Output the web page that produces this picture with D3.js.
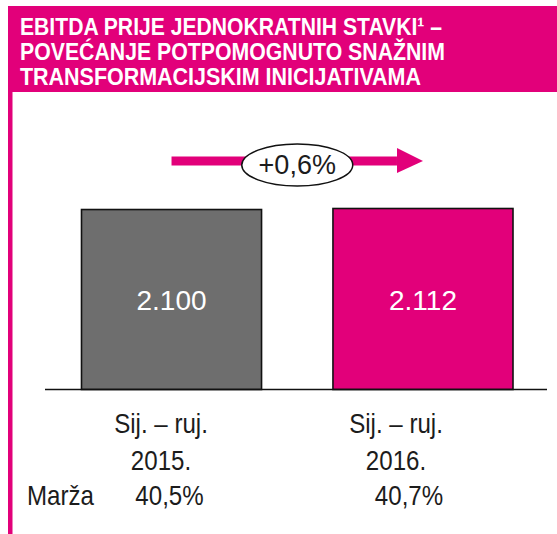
<!DOCTYPE html>
<html>
<head>
<meta charset="utf-8">
<script src="https://cdn.jsdelivr.net/npm/d3@7"></script>
<style>
  body { margin: 0; background: #fff; }
  svg { display: block; }
</style>
</head>
<body>
<script>
// data
var categories = ["2015", "2016"];
var values = [2100, 2112];
var valueLabels = ["2.100", "2.112"];
var periodLabels = ["Sij. – ruj.", "Sij. – ruj."];
var yearLabels = ["2015.", "2016."];
var marginLabels = ["40,5%", "40,7%"];
var changeLabel = "+0,6%";
var titleLines = ["EBITDA PRIJE JEDNOKRATNIH STAVKI¹ –", "POVEĆANJE POTPOMOGNUTO SNAŽNIM", "TRANSFORMACIJSKIM INICIJATIVAMA"];

var W = 557, H = 534;
var magenta = "#e2007a", grey = "#6e6e6e", ink = "#1c1c1c";

var svg = d3.select("body").append("svg")
    .attr("width", W)
    .attr("height", H);

// header block + left rule
svg.append("rect")
    .attr("x", 8).attr("y", 6)
    .attr("width", W - 8).attr("height", 86)
    .attr("fill", magenta);
svg.append("rect")
    .attr("x", 8).attr("y", 92)
    .attr("width", 4.5).attr("height", H - 92)
    .attr("fill", magenta);

var titleWidths = [422, 425, 401];
svg.append("g")
    .attr("fill", "#fff")
    .style("font-family", "'Liberation Sans', Arial, sans-serif")
    .style("font-weight", "bold")
    .style("font-size", "24px")
  .selectAll("text")
  .data(titleLines)
  .join("text")
    .attr("x", 20)
    .attr("y", function(d, i) { return 35 + i * 25; })
    .attr("textLength", function(d, i) { return titleWidths[i]; })
    .attr("lengthAdjust", "spacingAndGlyphs")
    .text(function(d) { return d; });

// scales
var x = d3.scaleBand()
    .domain(categories)
    .range([81.5, 513])
    .paddingInner(0.284);

var y = d3.scaleLinear()
    .domain([0, d3.max(values)])
    .range([389.5, 208.5]);

var bars = svg.append("g");
bars.selectAll("rect")
    .data(values)
    .join("rect")
    .attr("x", function(d, i) { return x(categories[i]); })
    .attr("y", function(d) { return y(d); })
    .attr("width", x.bandwidth())
    .attr("height", function(d) { return y(0) - y(d); })
    .attr("fill", function(d, i) { return i === 0 ? grey : magenta; })
    .attr("stroke", "#111")
    .attr("stroke-width", 1.6);

// value labels inside bars
bars.selectAll("text")
    .data(valueLabels)
    .join("text")
    .attr("x", function(d, i) { return x(categories[i]) + x.bandwidth() / 2; })
    .attr("y", (y(0) + y(values[0])) / 2 + 10)
    .attr("text-anchor", "middle")
    .attr("fill", "#fff")
    .style("font-family", "'Liberation Sans', Arial, sans-serif")
    .style("font-size", "28px")
    .text(function(d) { return d; });

// baseline
svg.append("line")
    .attr("x1", 45).attr("x2", 547)
    .attr("y1", y(0)).attr("y2", y(0))
    .attr("stroke", "#111")
    .attr("stroke-width", 1.6);

// growth arrow
var cx0 = x(categories[0]) + x.bandwidth() / 2,
    cx1 = x(categories[1]) + x.bandwidth() / 2,
    ay = 161;
var arrow = svg.append("g");
arrow.append("rect")
    .attr("x", cx0).attr("y", ay - 4.5)
    .attr("width", cx1 - 26 - cx0).attr("height", 9)
    .attr("fill", magenta);
arrow.append("path")
    .attr("d", d3.line()([[cx1 - 26, ay - 13], [cx1, ay], [cx1 - 26, ay + 12]]))
    .attr("fill", magenta);
arrow.append("ellipse")
    .attr("cx", (cx0 + cx1) / 2).attr("cy", 165)
    .attr("rx", 55.5).attr("ry", 21)
    .attr("fill", "#fff")
    .attr("stroke", "#111")
    .attr("stroke-width", 1.5);
arrow.append("text")
    .attr("x", (cx0 + cx1) / 2).attr("y", 174)
    .attr("text-anchor", "middle")
    .attr("fill", ink)
    .style("font-family", "'Liberation Sans', Arial, sans-serif")
    .style("font-size", "27px")
    .text(changeLabel);

// category labels below the axis
var labelX = d3.scalePoint().domain(categories).range([161, 396]);
var marginX = d3.scalePoint().domain(categories).range([169.5, 409]);

var lab = svg.append("g")
    .attr("fill", ink)
    .attr("text-anchor", "middle")
    .style("font-family", "'Liberation Sans', Arial, sans-serif")
    .style("font-size", "28px");

lab.selectAll(".period")
    .data(periodLabels)
    .join("text")
    .attr("class", "period")
    .attr("x", function(d, i) { return labelX(categories[i]); })
    .attr("y", 433)
    .text(function(d) { return d; });

lab.selectAll(".year")
    .data(yearLabels)
    .join("text")
    .attr("class", "year")
    .attr("x", function(d, i) { return labelX(categories[i]); })
    .attr("y", 470)
    .text(function(d) { return d; });

lab.selectAll(".margin")
    .data(marginLabels)
    .join("text")
    .attr("class", "margin")
    .attr("x", function(d, i) { return marginX(categories[i]); })
    .attr("y", 505)
    .text(function(d) { return d; });

lab.append("text")
    .attr("x", 27).attr("y", 505)
    .attr("text-anchor", "start")
    .text("Marža");

// the original face is a condensed one, squeeze the labels to match
lab.selectAll("text").each(function() {
  var w = this.getComputedTextLength();
  d3.select(this)
      .attr("textLength", w * 0.86)
      .attr("lengthAdjust", "spacingAndGlyphs");
});
</script>
</body>
</html>
